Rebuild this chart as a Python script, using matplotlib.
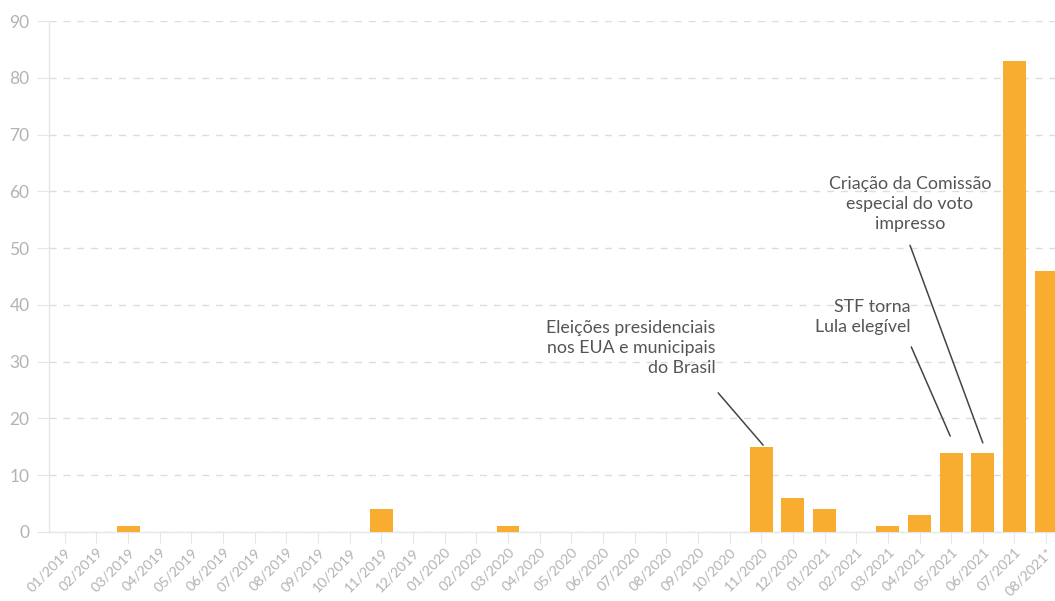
import matplotlib
matplotlib.use("Agg")
import matplotlib.pyplot as plt

plt.rcParams['font.family'] = ['Lato', 'DejaVu Sans']

months = ["01/2019", "02/2019", "03/2019", "04/2019", "05/2019", "06/2019", "07/2019",
          "08/2019", "09/2019", "10/2019", "11/2019", "12/2019", "01/2020", "02/2020",
          "03/2020", "04/2020", "05/2020", "06/2020", "07/2020", "08/2020", "09/2020",
          "10/2020", "11/2020", "12/2020", "01/2021", "02/2021", "03/2021", "04/2021",
          "05/2021", "06/2021", "07/2021", "08/2021*"]
counts = [0, 0, 1, 0, 0, 0, 0, 0, 0, 0, 4, 0, 0, 0, 1, 0, 0, 0, 0, 0, 0, 0,
          15, 6, 4, 0, 1, 3, 14, 14, 83, 46]

bar_color = "#f8ad30"
grid_color = "#dcdcdc"
label_color = "#b3b3b3"
note_color = "#555555"

fig = plt.figure(figsize=(10.55, 6.01), dpi=100)
ax = fig.add_axes([49 / 1055, 1 - 532 / 601, 1 - 49 / 1055, (532 - 21) / 601])

x = list(range(len(months)))
ax.bar(x, counts, width=0.72, color=bar_color, zorder=3)

ax.set_xlim(-0.5, len(months) - 0.72)
ax.set_ylim(0, 90)
ax.set_yticks(range(0, 91, 10))
ax.set_xticks(x)
ax.set_xticklabels(months, rotation=45, ha="right", rotation_mode="anchor")

ax.yaxis.grid(True, color=grid_color, linestyle=(0, (5, 5)), linewidth=1, zorder=0)
for s in ["top", "right"]:
    ax.spines[s].set_visible(False)
for s in ["left", "bottom"]:
    ax.spines[s].set_color("#e6e6e6")
    ax.spines[s].set_linewidth(1)

ax.tick_params(axis="y", length=9, color="#e6e6e6", labelcolor=label_color,
               labelsize=12.5, pad=5)
ax.tick_params(axis="x", length=8, color="#e6e6e6", labelcolor=label_color,
               labelsize=10.2, pad=2)

# annotations
notes = [
    ("Eleições presidenciais\nnos EUA e municipais\ndo Brasil", 20.55, 37.4, "right",
     (20.64, 24.5), (22.06, 15.3)),
    ("STF torna\nLula elegível", 26.70, 41.0, "right",
     (26.74, 32.6), (27.97, 16.9)),
    ("Criação da Comissão\nespecial do voto\nimpresso", 26.70, 62.7, "center",
     (26.70, 50.5), (29.0, 15.7)),
]
for text, tx, ty, ha, start, end in notes:
    ax.text(tx, ty, text, ha=ha, va="top", multialignment=ha, fontsize=12.8,
            color=note_color, linespacing=1.32, zorder=4)
    ax.annotate("", xy=end, xytext=start,
                arrowprops=dict(arrowstyle="-", color="#444444", lw=1.1,
                                shrinkA=0, shrinkB=0), zorder=4)

fig.savefig("out.png", dpi=100)
